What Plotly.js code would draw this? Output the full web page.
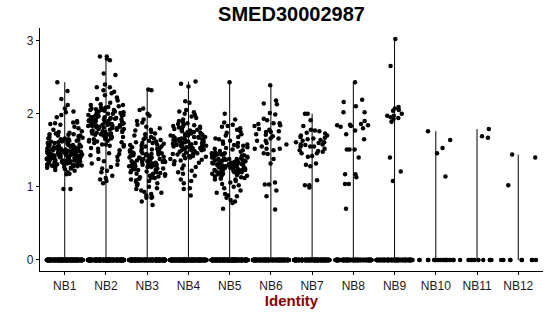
<!DOCTYPE html>
<html>
<head>
<meta charset="utf-8">
<script src="https://cdn.plot.ly/plotly-3.0.1.min.js"></script>
<style>html,body{margin:0;padding:0;background:#fff;}#chart{width:550px;height:316px;}</style>
</head>
<body>
<div id="chart"></div>
<script>
// ---- data ----
const categories = ['NB1','NB2','NB3','NB4','NB5','NB6','NB7','NB8','NB9','NB10','NB11','NB12'];

// number of cells with zero expression in each identity (solid band at 0)
const zeroCounts = [300, 300, 300, 300, 300, 220, 220, 160, 160, 20, 10, 9];

const nb1 = [2.43, 2.31, 2.20, 2.12, 2.07, 2.03, 2.02, 1.98, 1.95, 1.90, 1.88, 1.88, 1.87, 1.86, 1.85, 1.82, 1.80, 1.78, 1.76, 1.75, 1.74, 1.73, 1.72, 1.72, 1.71, 1.70, 1.70, 1.69, 1.68, 1.67, 1.66, 1.66, 1.65, 1.65, 1.64, 1.63, 1.63, 1.62, 1.62, 1.61, 1.60, 1.60, 1.59, 1.59, 1.58, 1.58, 1.57, 1.57, 1.56, 1.56, 1.55, 1.55, 1.55, 1.54, 1.54, 1.53, 1.53, 1.53, 1.52, 1.52, 1.51, 1.51, 1.51, 1.50, 1.50, 1.50, 1.49, 1.49, 1.49, 1.48, 1.48, 1.48, 1.47, 1.47, 1.47, 1.46, 1.46, 1.46, 1.45, 1.45, 1.45, 1.45, 1.44, 1.44, 1.44, 1.43, 1.43, 1.43, 1.42, 1.42, 1.42, 1.41, 1.41, 1.41, 1.40, 1.40, 1.40, 1.39, 1.39, 1.39, 1.38, 1.38, 1.38, 1.37, 1.37, 1.36, 1.36, 1.36, 1.35, 1.35, 1.34, 1.34, 1.33, 1.33, 1.32, 1.32, 1.31, 1.31, 1.30, 1.30, 1.29, 1.29, 1.28, 1.28, 1.27, 1.26, 1.25, 1.24, 1.23, 1.22, 1.20, 1.18, 1.17, 0.97, 0.97,
  1.58, 1.54, 1.50, 1.47, 1.45, 1.43, 1.41, 1.39, 1.37, 1.35, 1.33, 1.31, 1.29, 1.27, 1.52, 1.48, 1.44, 1.40, 1.36, 1.32, 1.46, 1.42, 1.38, 1.34, 1.30, 1.56, 1.60, 1.62, 1.64, 1.26, 1.28, 1.45, 1.49, 1.51, 1.53, 1.43, 1.39, 1.35, 1.47, 1.41];

const nb2 = [2.78, 2.78, 2.75, 2.73, 2.55, 2.53, 2.40, 2.36, 2.36, 2.32, 2.30, 2.28, 2.25, 2.22, 2.20, 2.18, 2.15, 2.13, 2.12, 2.10, 2.09, 2.08, 2.07, 2.06, 2.05, 2.05, 2.04, 2.03, 2.02, 2.02, 2.01, 2.00, 2.00, 1.99, 1.98, 1.98, 1.97, 1.96, 1.96, 1.95, 1.94, 1.94, 1.93, 1.92, 1.92, 1.91, 1.90, 1.90, 1.89, 1.88, 1.88, 1.87, 1.86, 1.86, 1.85, 1.85, 1.84, 1.83, 1.83, 1.82, 1.81, 1.81, 1.80, 1.79, 1.79, 1.78, 1.77, 1.76, 1.76, 1.75, 1.74, 1.73, 1.72, 1.71, 1.70, 1.69, 1.68, 1.67, 1.66, 1.65, 1.64, 1.63, 1.62, 1.61, 1.60, 1.58, 1.57, 1.56, 1.55, 1.53, 1.52, 1.50, 1.48, 1.46, 1.45, 1.43, 1.41, 1.38, 1.36, 1.35, 1.32, 1.30, 1.27, 1.25, 1.22, 1.20, 1.15, 1.12, 1.10, 1.08, 1.05,
  1.95, 1.90, 1.85, 1.80, 1.75, 1.70, 2.00, 2.05, 1.88, 1.83, 1.78, 1.93, 1.98, 1.86, 1.72, 1.68, 1.62, 1.97, 1.91, 1.84, 1.77, 2.03, 2.08, 2.12, 1.58, 1.65, 1.73, 1.82, 1.89, 1.94];

const nb3 = [2.33, 2.32, 2.07, 2.05, 2.00, 1.97, 1.92, 1.90, 1.88, 1.85, 1.82, 1.80, 1.78, 1.77, 1.75, 1.73, 1.72, 1.70, 1.68, 1.67, 1.66, 1.65, 1.64, 1.63, 1.62, 1.61, 1.60, 1.59, 1.58, 1.57, 1.56, 1.55, 1.54, 1.53, 1.52, 1.51, 1.50, 1.50, 1.49, 1.48, 1.47, 1.46, 1.46, 1.45, 1.44, 1.43, 1.42, 1.42, 1.41, 1.40, 1.40, 1.39, 1.38, 1.38, 1.37, 1.36, 1.36, 1.35, 1.34, 1.34, 1.33, 1.32, 1.32, 1.31, 1.30, 1.30, 1.29, 1.28, 1.28, 1.27, 1.26, 1.25, 1.24, 1.23, 1.22, 1.21, 1.20, 1.19, 1.18, 1.17, 1.16, 1.15, 1.14, 1.13, 1.12, 1.11, 1.10, 1.09, 1.07, 1.05, 1.04, 1.02, 1.00, 0.98, 0.97, 0.95, 0.93, 0.92, 0.90, 0.88, 0.86, 0.85, 0.85, 0.80, 0.75,
  1.45, 1.40, 1.35, 1.30, 1.25, 1.20, 1.15, 1.38, 1.33, 1.28, 1.43, 1.48, 1.52, 1.23, 1.18, 1.36, 1.31, 1.41, 1.27, 1.55, 1.60, 1.12, 1.08, 1.46, 1.34];

const nb4 = [2.44, 2.41, 2.37, 2.17, 2.15, 2.05, 2.03, 2.02, 2.00, 1.98, 1.96, 1.94, 1.92, 1.90, 1.88, 1.87, 1.86, 1.85, 1.84, 1.83, 1.82, 1.81, 1.80, 1.79, 1.78, 1.77, 1.76, 1.75, 1.75, 1.74, 1.73, 1.72, 1.72, 1.71, 1.70, 1.70, 1.69, 1.68, 1.68, 1.67, 1.66, 1.66, 1.65, 1.64, 1.64, 1.63, 1.62, 1.62, 1.61, 1.60, 1.60, 1.59, 1.58, 1.58, 1.57, 1.56, 1.56, 1.55, 1.54, 1.54, 1.53, 1.52, 1.51, 1.50, 1.50, 1.49, 1.48, 1.47, 1.46, 1.45, 1.44, 1.43, 1.42, 1.41, 1.40, 1.39, 1.38, 1.37, 1.36, 1.35, 1.33, 1.31, 1.29, 1.27, 1.25, 1.22, 1.20, 1.18, 1.15, 1.10, 1.08, 1.05, 0.98, 0.97, 0.88,
  1.65, 1.60, 1.55, 1.50, 1.70, 1.75, 1.62, 1.57, 1.52, 1.45, 1.67, 1.72, 1.58, 1.63, 1.48, 1.53, 1.68, 1.42, 1.78, 1.82, 1.61, 1.56];

const nb5 = [2.43, 2.00, 1.92, 1.88, 1.85, 1.83, 1.82, 1.80, 1.78, 1.76, 1.74, 1.72, 1.70, 1.68, 1.66, 1.65, 1.63, 1.62, 1.60, 1.59, 1.58, 1.57, 1.56, 1.55, 1.54, 1.53, 1.52, 1.51, 1.50, 1.49, 1.48, 1.47, 1.46, 1.46, 1.45, 1.44, 1.44, 1.43, 1.42, 1.42, 1.41, 1.40, 1.40, 1.39, 1.39, 1.38, 1.38, 1.37, 1.37, 1.36, 1.36, 1.35, 1.35, 1.34, 1.34, 1.33, 1.33, 1.32, 1.32, 1.31, 1.31, 1.30, 1.30, 1.29, 1.29, 1.28, 1.28, 1.27, 1.27, 1.26, 1.26, 1.25, 1.25, 1.24, 1.24, 1.23, 1.23, 1.22, 1.22, 1.21, 1.21, 1.20, 1.20, 1.19, 1.18, 1.17, 1.16, 1.15, 1.14, 1.13, 1.12, 1.11, 1.10, 1.08, 1.06, 1.04, 1.02, 1.00, 0.98, 0.95, 0.92, 0.90, 0.88, 0.87, 0.85, 0.82, 0.80, 0.78, 0.70,
  1.35, 1.30, 1.25, 1.20, 1.15, 1.28, 1.32, 1.22, 1.38, 1.18, 1.27, 1.33, 1.23, 1.29, 1.36, 1.40, 1.12, 1.26, 1.31, 1.24, 1.34, 1.21, 1.43, 1.45, 1.10, 1.19, 1.37, 1.30, 1.26, 1.28];

const nb6 = [2.39, 2.18, 2.14, 2.13, 2.01, 1.99, 1.93, 1.91, 1.87, 1.87, 1.86, 1.84, 1.83, 1.79, 1.78, 1.76, 1.75, 1.75, 1.72, 1.71, 1.69, 1.66, 1.66, 1.63, 1.63, 1.60, 1.58, 1.55, 1.52, 1.52, 1.52, 1.50, 1.46, 1.45, 1.38, 1.32, 1.06, 1.03, 1.03, 0.95, 0.87, 0.69];

const nb7 = [2.00, 2.00, 1.91, 1.83, 1.78, 1.77, 1.76, 1.74, 1.73, 1.70, 1.70, 1.68, 1.67, 1.66, 1.65, 1.64, 1.63, 1.61, 1.61, 1.60, 1.58, 1.58, 1.57, 1.55, 1.55, 1.55, 1.52, 1.50, 1.49, 1.48, 1.46, 1.46, 1.42, 1.41, 1.32, 1.30, 1.28, 1.09, 1.02, 1.02, 0.99];

const nb8 = [2.43, 2.19, 2.16, 2.10, 2.02, 2.02, 1.90, 1.86, 1.85, 1.84, 1.84, 1.83, 1.82, 1.80, 1.77, 1.72, 1.65, 1.51, 1.51, 1.51, 1.40, 1.17, 1.17, 1.13, 1.04, 1.04, 0.70];

const nb9 = [3.02, 2.65, 2.09, 2.07, 2.05, 2.04, 2.00, 1.97, 1.97, 1.95, 1.94, 1.93, 1.89, 1.40, 1.21, 1.08];

const nb10 = [1.76, 1.64, 1.53, 1.46, 1.14];
const nb11 = [1.79, 1.69, 1.67];
const nb12 = [1.44, 1.40, 1.02];

const expressed = [nb1, nb2, nb3, nb4, nb5, nb6, nb7, nb8, nb9, nb10, nb11, nb12];

// ---- build traces ----
// Large identities: zeros and expressed cells share one jittered box (even jitter width);
// small identities: zeros and expressed cells are jittered separately.
const ax = [], ay = [];   // combined
const zx = [], zy = [];   // zeros only
const px = [], py = [];   // expressed only
categories.forEach((c, i) => {
  const large = expressed[i].length > 60;
  const tx = large ? ax : zx, ty = large ? ay : zy;
  for (let k = 0; k < zeroCounts[i]; k++) { tx.push(c); ty.push(0); }
  const ex = large ? ax : px, ey = large ? ay : py;
  expressed[i].forEach(v => { ex.push(c); ey.push(v); });
});

// violin outline (collapsed to a thin line from 0 to the group maximum)
const vx = [], vy = [];
categories.forEach((c, i) => {
  const m = Math.max(0, ...expressed[i]);
  vx.push(c, c, c); vy.push(0, m, null);
});

const pointStyle = {color: '#000', size: 4.5};
const boxCommon = {
  type: 'box', boxpoints: 'all', jitter: 1, pointpos: 0,
  line: {width: 0}, fillcolor: 'rgba(0,0,0,0)', marker: pointStyle,
  hoveron: 'points', showlegend: false
};

const traces = [
  {type: 'scatter', mode: 'lines', x: vx, y: vy, line: {color: '#000', width: 1}, connectgaps: false, showlegend: false, hoverinfo: 'skip'},
  Object.assign({x: ax, y: ay}, boxCommon),
  Object.assign({x: zx, y: zy}, boxCommon),
  Object.assign({x: px, y: py}, boxCommon)
];

const font = 'Liberation Sans, Arial, Helvetica, sans-serif';
const layout = {
  width: 550, height: 316,
  margin: {l: 40, r: 7, t: 28, b: 45},
  paper_bgcolor: '#fff', plot_bgcolor: '#fff',
  font: {family: font, size: 12, color: '#000'},
  showlegend: false,
  boxmode: 'overlay', boxgap: 0.12, boxgroupgap: 0,
  title: {text: '<b>SMED30002987</b>', font: {family: font, size: 20, color: '#000'},
          x: 0.5, xref: 'paper', xanchor: 'center', y: 1 - 14/316, yref: 'container', yanchor: 'middle'},
  xaxis: {
    type: 'category', categoryorder: 'array', categoryarray: categories,
    range: [-0.6, 11.6], showgrid: false, zeroline: false,
    showline: true, linecolor: '#000', linewidth: 1.1,
    ticks: 'outside', ticklen: 3, tickcolor: '#000', tickwidth: 1,
    tickfont: {family: font, size: 12, color: '#1a1a1a'},
    title: {text: '<b>Identity</b>', font: {family: font, size: 15, color: '#8B0000'}, standoff: 4}
  },
  yaxis: {
    range: [-0.151, 3.171], tickvals: [0, 1, 2, 3], showgrid: false, zeroline: false,
    showline: true, linecolor: '#000', linewidth: 1.1,
    ticks: 'outside', ticklen: 3, tickcolor: '#000', tickwidth: 1,
    tickfont: {family: font, size: 12, color: '#1a1a1a'}
  }
};

Plotly.newPlot('chart', traces, layout, {staticPlot: true, displayModeBar: false});
</script>
</body>
</html>
